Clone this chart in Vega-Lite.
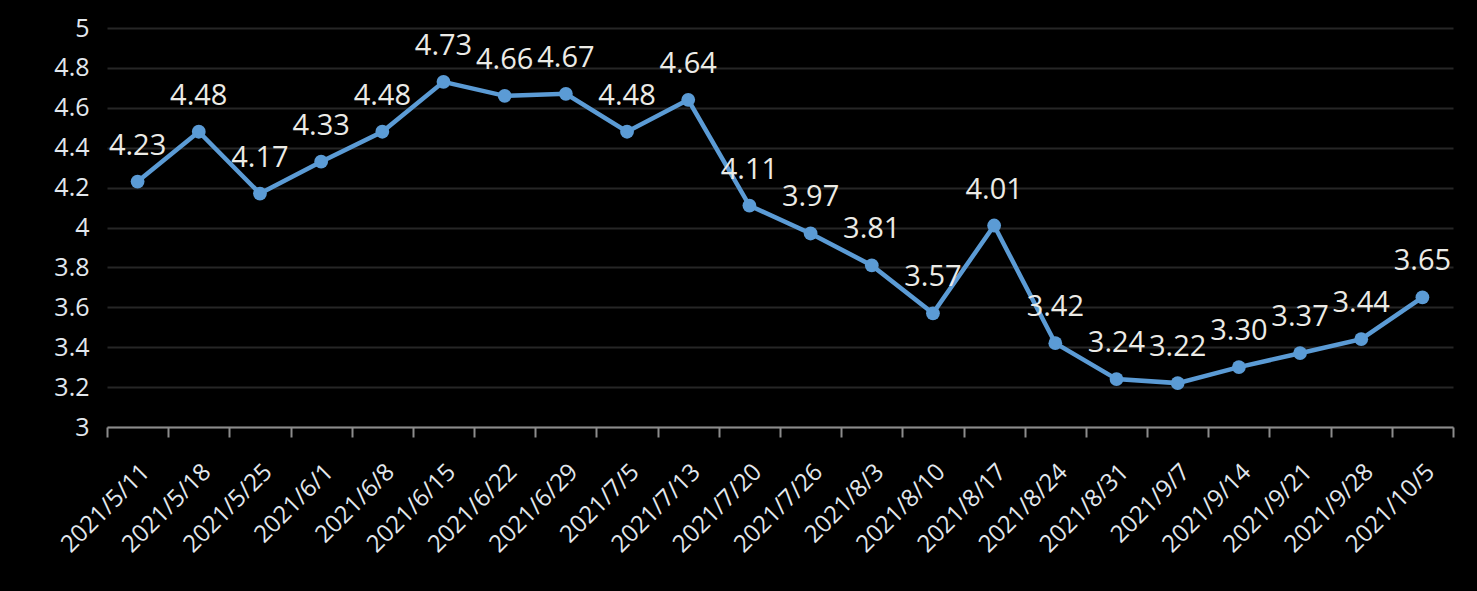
{
  "$schema": "https://vega.github.io/schema/vega-lite/v6.json",
  "width": 1346,
  "height": 399,
  "autosize": {"type": "none"},
  "padding": {"left": 107, "top": 28, "right": 24, "bottom": 164},
  "background": "#000000",
  "config": {
    "view": {"stroke": null},
    "font": "Open Sans"
  },
  "data": {
    "values": [
      {"date": "2021/5/11", "v": 4.23},
      {"date": "2021/5/18", "v": 4.48},
      {"date": "2021/5/25", "v": 4.17},
      {"date": "2021/6/1", "v": 4.33},
      {"date": "2021/6/8", "v": 4.48},
      {"date": "2021/6/15", "v": 4.73},
      {"date": "2021/6/22", "v": 4.66},
      {"date": "2021/6/29", "v": 4.67},
      {"date": "2021/7/5", "v": 4.48},
      {"date": "2021/7/13", "v": 4.64},
      {"date": "2021/7/20", "v": 4.11},
      {"date": "2021/7/26", "v": 3.97},
      {"date": "2021/8/3", "v": 3.81},
      {"date": "2021/8/10", "v": 3.57},
      {"date": "2021/8/17", "v": 4.01},
      {"date": "2021/8/24", "v": 3.42},
      {"date": "2021/8/31", "v": 3.24},
      {"date": "2021/9/7", "v": 3.22},
      {"date": "2021/9/14", "v": 3.30},
      {"date": "2021/9/21", "v": 3.37},
      {"date": "2021/9/28", "v": 3.44},
      {"date": "2021/10/5", "v": 3.65}
    ]
  },
  "encoding": {
    "x": {
      "field": "date", "type": "ordinal", "sort": null,
      "scale": {"paddingInner": 0, "paddingOuter": 0},
      "axis": {
        "title": null,
        "labelAngle": -45,
        "labelAlign": "right",
        "labelBaseline": "middle",
        "labelFontSize": 24,
        "labelColor": "#e3e8ee",
        "labelPadding": 31,
        "labelOffset": 8,
        "tickSize": 10,
        "tickColor": "#8c8c8c",
        "tickWidth": 2,
        "tickBand": "extent",
        "domainColor": "#8c8c8c",
        "domainWidth": 2,
        "grid": false
      }
    },
    "y": {
      "field": "v", "type": "quantitative",
      "scale": {"domain": [3, 5], "nice": false, "zero": false},
      "axis": {
        "title": null,
        "values": [3, 3.2, 3.4, 3.6, 3.8, 4, 4.2, 4.4, 4.6, 4.8, 5],
        "format": "~g",
        "labelFontSize": 25,
        "labelColor": "#e3e8ee",
        "labelPadding": 18,
        "ticks": false,
        "domain": false,
        "grid": true,
        "gridColor": "#262626",
        "gridWidth": 2
      }
    }
  },
  "layer": [
    {
      "mark": {"type": "line", "color": "#5b9bd5", "strokeWidth": 4.5},
      "encoding": {}
    },
    {
      "mark": {"type": "circle", "color": "#5b9bd5", "opacity": 1, "size": 190},
      "encoding": {}
    },
    {
      "mark": {"type": "text", "color": "#ecebe6", "fontSize": 29, "dy": -36},
      "encoding": {"text": {"field": "v", "type": "quantitative", "format": ".2f"}}
    }
  ]
}
